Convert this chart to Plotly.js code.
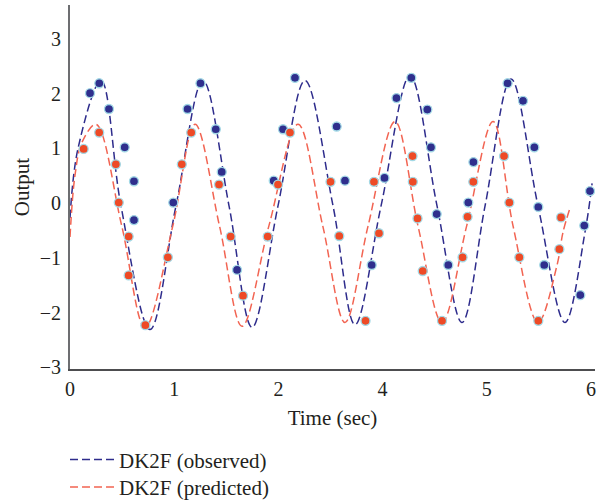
<!DOCTYPE html>
<html>
<head>
<meta charset="utf-8">
<script src="https://cdn.plot.ly/plotly-3.0.1.min.js"></script>
<style>html,body{margin:0;padding:0;background:#fff;}#chart{width:597px;height:500px;}</style>
</head>
<body>
<div id="chart"></div>
<script>
// x axis positions (evenly spaced) and their printed labels
var tickPositions = [0, 1, 2, 3, 4, 5];
var tickLabels = ['0', '1', '2', '4', '5', '6'];

// DK2F (observed) dashed curve
var obsLineX = [0, 0.077, 0.298, 0.489, 0.768, 1.017, 1.276, 1.526, 1.747, 1.996, 2.255, 2.524, 2.735, 2.985, 3.263, 3.522, 3.762, 3.983, 4.232, 4.491, 4.75, 4.942, 5.01];
var obsLineY = [-0.27, 1.0, 2.24, -0.05, -2.31, -0.05, 2.24, -0.05, -2.27, -0.05, 2.24, -0.05, -2.22, -0.05, 2.33, -0.05, -2.18, -0.05, 2.27, -0.05, -2.18, -0.53, 0.36];

// DK2F (predicted) dashed curve
var predLineX = [0, 0.048, 0.115, 0.25, 0.497, 0.72, 0.986, 1.2, 1.435, 1.651, 1.908, 2.188, 2.426, 2.639, 2.86, 3.119, 3.34, 3.57, 3.806, 4.06, 4.252, 4.491, 4.674, 4.731, 4.798];
var predLineY = [-0.62, 0.51, 1.11, 1.44, -0.42, -2.27, -0.42, 1.44, -0.42, -2.25, -0.42, 1.44, -0.42, -2.18, -0.42, 1.49, -0.42, -2.18, -0.42, 1.49, -0.42, -2.18, -1.13, -0.53, -0.09];

// observed sample points (blue dots)
var obsDotX = [0.192, 0.281, 0.374, 0.525, 0.614, 0.614, 0.991, 1.128, 1.252, 1.399, 1.456, 1.603, 1.955, 2.044, 2.159, 2.559, 2.639, 2.895, 3.018, 3.133, 3.275, 3.429, 3.464, 3.519, 3.630, 3.822, 3.871, 4.199, 4.347, 4.456, 4.494, 4.551, 4.897, 4.935, 4.990];
var obsDotY = [2.01, 2.19, 1.72, 1.02, 0.40, -0.31, 0.01, 1.72, 2.19, 1.35, 0.57, -1.22, 0.41, 1.35, 2.29, 1.40, 0.41, -1.13, 0.46, 1.92, 2.29, 1.71, 1.02, -0.20, -1.13, 0.01, 0.75, 2.19, 1.87, 1.02, -0.07, -1.13, -1.68, -0.41, 0.22];

// predicted sample points (red dots)
var predDotX = [0.131, 0.280, 0.440, 0.468, 0.563, 0.563, 0.723, 0.939, 1.073, 1.163, 1.430, 1.542, 1.660, 1.897, 1.996, 2.111, 2.500, 2.584, 2.836, 2.917, 2.965, 3.287, 3.290, 3.335, 3.385, 3.570, 3.767, 3.815, 3.870, 4.165, 4.216, 4.312, 4.494, 4.696, 4.712];
var predDotY = [0.99, 1.29, 0.71, 0.01, -0.61, -1.32, -2.23, -0.99, 0.71, 1.29, 0.34, -0.61, -1.69, -0.61, 0.34, 1.29, 0.39, -0.60, -2.15, 0.39, -0.55, 0.86, 0.39, -0.28, -1.24, -2.15, -0.99, -0.25, 0.39, 0.86, 0.01, -0.99, -2.15, -0.84, -0.26];

var seriesNames = ['DK2F (observed)', 'DK2F (predicted)'];

var blue = '#2e2c8c';
var red = '#f26452';
var blueDot = '#2f2f8d';
var redDot = '#ee4a26';
var dotEdge = '#a3d9e6';
var serif = 'Liberation Serif';
var ink = '#231f20';

var traces = [
  {x: obsLineX, y: obsLineY, type: 'scatter', mode: 'lines', name: seriesNames[0], legend: 'legend',
   line: {color: blue, width: 1.5, dash: '8px,4px', shape: 'spline', smoothing: 1}},
  {x: predLineX, y: predLineY, type: 'scatter', mode: 'lines', name: seriesNames[1], legend: 'legend2',
   line: {color: red, width: 1.5, dash: '8px,4px', shape: 'spline', smoothing: 1}},
  {x: obsDotX, y: obsDotY, type: 'scatter', mode: 'markers', showlegend: false, hoverinfo: 'skip',
   marker: {color: blueDot, size: 9, line: {color: dotEdge, width: 1.3}}},
  {x: predDotX, y: predDotY, type: 'scatter', mode: 'markers', showlegend: false, hoverinfo: 'skip',
   marker: {color: redDot, size: 9, line: {color: dotEdge, width: 1.3}}}
];

function legendBox(yPos) {
  return {x: -0.0095, xanchor: 'left', y: yPos, yanchor: 'top',
          font: {family: serif, size: 21, color: ink},
          bgcolor: 'rgba(0,0,0,0)', itemwidth: 44};
}

var layout = {
  width: 597, height: 500,
  margin: {l: 70, r: 2, t: 5, b: 131, autoexpand: false},
  paper_bgcolor: '#ffffff', plot_bgcolor: '#ffffff',
  font: {family: serif, size: 20, color: ink},
  showlegend: true,
  legend: legendBox(-0.193),
  legend2: legendBox(-0.269),
  xaxis: {
    range: [0, 5.038], tickvals: tickPositions, ticktext: tickLabels,
    showgrid: false, zeroline: false, showline: true, linecolor: '#4d4d4f', linewidth: 1.5,
    ticks: 'outside', ticklen: 1, tickcolor: 'rgba(0,0,0,0)', automargin: false,
    tickfont: {family: serif, size: 20, color: ink},
    title: {text: 'Time (sec)', font: {family: serif, size: 21, color: ink}, standoff: 12},
    fixedrange: true
  },
  yaxis: {
    range: [-3.03, 3.62], tickvals: [-3, -2, -1, 0, 1, 2, 3],
    ticktext: ['\u22123', '\u22122', '\u22121', '0', '1', '2', '3'],
    showgrid: false, zeroline: false, showline: true, linecolor: '#6d6e71', linewidth: 2,
    ticks: 'outside', ticklen: 3, tickcolor: 'rgba(0,0,0,0)', automargin: false,
    tickfont: {family: serif, size: 20, color: ink},
    title: {text: 'Output', font: {family: serif, size: 21, color: ink}, standoff: 4},
    fixedrange: true
  }
};

Plotly.newPlot('chart', traces, layout, {displayModeBar: false, staticPlot: true});
</script>
</body>
</html>
